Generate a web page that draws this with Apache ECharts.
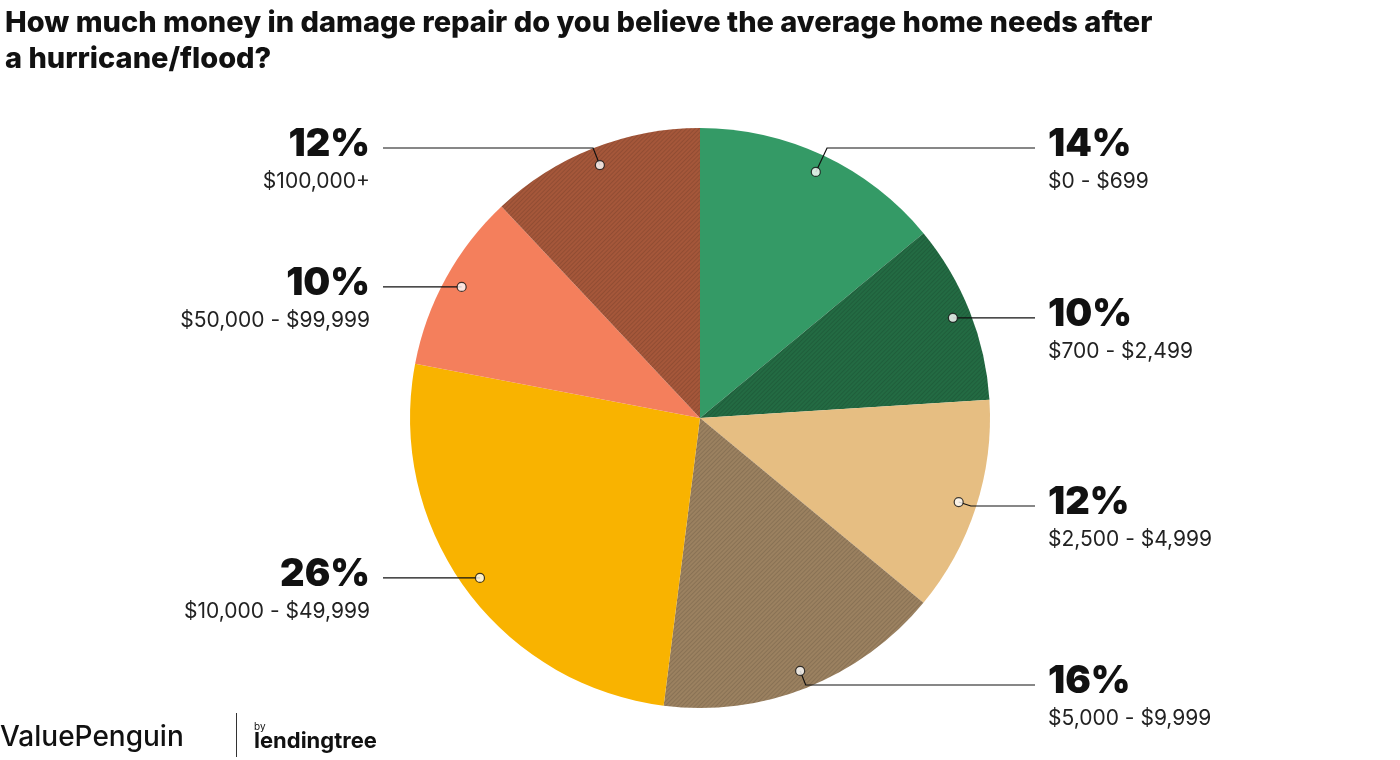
<!DOCTYPE html>
<html lang="en">
<head>
<meta charset="UTF-8">
<title>Hurricane damage repair</title>
<style>
  html, body { margin: 0; padding: 0; background: #fff; }
  #chart { width: 1400px; height: 760px; }
</style>
</head>
<body>
<div id="chart"></div>
<script src="https://cdn.jsdelivr.net/npm/echarts@6/dist/echarts.min.js"></script>
<script>
var categories = ['$0 - $699', '$700 - $2,499', '$2,500 - $4,999', '$5,000 - $9,999',
                  '$10,000 - $49,999', '$50,000 - $99,999', '$100,000+'];
var shares = [14, 10, 12, 16, 26, 10, 12];

var colors = ['#349a66', '#236b43', '#e6be82', '#9b8160', '#f9b300', '#f47f5c', '#a5573a'];
var hatched = [false, true, false, true, false, false, true];
// label line heights (layout only)
var lineY = [148, 331, 506, 685, 543, 302, 148];

var cx = 700, cy = 418, R = 290, rDot = 272;

var hatch = {
    symbol: 'rect', dashArrayX: [1, 0], dashArrayY: [1, 2],
    rotation: -Math.PI / 4, color: 'rgba(0,0,0,0.12)'
};

var pieData = shares.map(function (v, i) {
    var st = { color: colors[i] };
    if (hatched[i]) st.decal = hatch;
    return { name: categories[i], value: v, itemStyle: st };
});

// mid points of slices for the dots
var dotData = [];
var acc = 0;
shares.forEach(function (v) { dotData.push([rDot, acc + v / 2]); acc += v; });

var chart = echarts.init(document.getElementById('chart'));
chart.setOption({
    animation: false,
    title: {
        text: 'How much money in damage repair do you believe the average home needs after\na hurricane/flood?',
        left: 0, top: 0,
        textStyle: { fontFamily: 'Inter', fontWeight: 800, fontSize: 29, lineHeight: 36, color: '#111' }
    },
    polar: { center: [cx, cy], radius: R },
    angleAxis: { min: 0, max: 100, startAngle: 90, clockwise: true, show: false },
    radiusAxis: { min: 0, max: R, show: false },
    series: [
        {
            type: 'pie', center: [cx, cy], radius: R, startAngle: 90, clockwise: true,
            data: pieData, label: { show: false }, labelLine: { show: false },
            silent: true, z: 1
        },
        {
            type: 'pie', center: [cx, cy], radius: rDot, startAngle: 90, clockwise: true,
            data: shares.map(function (v, i) { return { name: categories[i], value: v }; }),
            itemStyle: { color: 'rgba(0,0,0,0)' }, silent: true, z: 2,
            label: {
                show: true, position: 'outside',
                formatter: function (p) { return '{pct|' + p.value + '%}\n{rng|' + p.name + '}'; },
                rich: {
                    pct: { fontFamily: 'Inter', fontWeight: 900, fontSize: 38, lineHeight: 44, color: '#111' },
                    rng: { fontFamily: 'Inter', fontSize: 21, lineHeight: 30, color: '#222' }
                }
            },
            labelLine: { show: true, lineStyle: { color: '#111', width: 1.2 } },
            labelLayout: function (p) {
                var i = p.dataIndex;
                var right = i < 4;
                var y = lineY[i];
                var s = p.labelLinePoints ? p.labelLinePoints[0] : [cx, cy];
                var dx = s[0] - cx, dy = s[1] - cy;
                var ex = s[0], ey = y;
                if (Math.abs(dy) > 1 && Math.abs(y - s[1]) > 2) {
                    var t = (y - cy) / dy;
                    if (t > 1) { ex = cx + dx * t; } else { ey = s[1]; }
                } else { ey = s[1]; }
                var endX = right ? 1035 : 383;
                return {
                    x: right ? 1048 : 370, y: ey - 25,
                    align: right ? 'left' : 'right', verticalAlign: 'top',
                    labelLinePoints: [s, [ex, ey], [endX, ey]]
                };
            }
        },
        {
            type: 'scatter', coordinateSystem: 'polar', data: dotData,
            symbolSize: 9, z: 5, silent: true,
            itemStyle: { color: '#fff', borderColor: '#111', borderWidth: 1.2 }
        }
    ],
    graphic: [
        { type: 'text', left: 0, top: 724, style: { text: 'ValuePenguin', font: '500 28px Inter', fill: '#111' } },
        { type: 'rect', left: 236, top: 713, shape: { width: 1, height: 44 }, style: { fill: '#333' } },
        { type: 'text', left: 254, top: 722, style: { text: 'by', font: '10px Inter', fill: '#111' } },
        { type: 'text', left: 254, top: 730, style: { text: 'lendingtree', font: 'bold 22px Inter', fill: '#111' } }
    ]
});
</script>
</body>
</html>
